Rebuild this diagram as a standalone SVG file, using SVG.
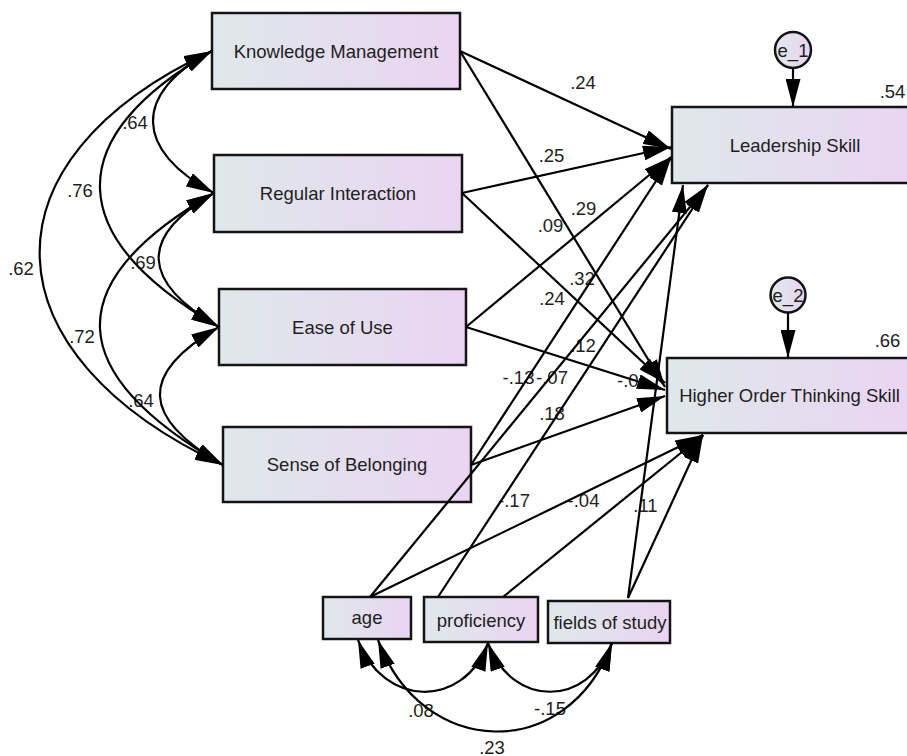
<svg xmlns="http://www.w3.org/2000/svg" width="907" height="756" viewBox="0 0 907 756">
<defs>
<linearGradient id="fillg" x1="0" y1="0" x2="1" y2="0">
<stop offset="0" stop-color="#dfe8eb"/>
<stop offset="1" stop-color="#ead4f2"/>
</linearGradient>
<marker id="ah" viewBox="0 0 28 15" refX="28" refY="7.5" markerWidth="28" markerHeight="15" markerUnits="userSpaceOnUse" orient="auto-start-reverse">
<path d="M0,0 L28,7.5 L0,15 Z" fill="#000"/>
</marker>
<style>
.box{fill:url(#fillg);stroke:#141414;stroke-width:2.5}
.t{font-family:"Liberation Sans",Arial,sans-serif;font-size:18.5px;fill:#1e1e1e;text-anchor:middle}
.ln{fill:none;stroke:#000;stroke-width:2.2;marker-end:url(#ah)}
.cv{fill:none;stroke:#000;stroke-width:2.2;marker-start:url(#ah);marker-end:url(#ah)}
</style>
</defs>
<rect x="0" y="0" width="907" height="756" fill="#fff"/>

<g id="km"><rect class="box" x="212" y="13" width="248" height="76"/><text class="t" x="336" y="57.5">Knowledge Management</text></g>
<g id="ri"><rect class="box" x="214" y="155" width="248" height="77"/><text class="t" x="338" y="200">Regular Interaction</text></g>
<g id="eou"><rect class="box" x="219" y="289" width="247" height="76"/><text class="t" x="342.5" y="333.5">Ease of Use</text></g>
<g id="sob"><rect class="box" x="223" y="427" width="248" height="75"/><text class="t" x="347" y="471">Sense of Belonging</text></g>
<g id="ls"><rect class="box" x="672" y="107" width="246" height="76"/><text class="t" x="795" y="151.5">Leadership Skill</text></g>
<g id="hots"><rect class="box" x="667" y="358" width="245" height="75"/><text class="t" x="789.5" y="402">Higher Order Thinking Skill</text></g>
<g id="age"><rect class="box" x="323" y="597" width="88" height="42"/><text class="t" x="367" y="624">age</text></g>
<g id="prof"><rect class="box" x="424" y="597" width="114" height="45"/><text class="t" x="481" y="626.5">proficiency</text></g>
<g id="fos"><rect class="box" x="548" y="601" width="122" height="42"/><text class="t" x="610" y="628.5">fields of study</text></g>
<g id="e1"><circle class="box" cx="793" cy="50" r="18"/><text class="t" x="793" y="56.5">e_1</text></g>
<g id="e2"><circle class="box" cx="788" cy="295" r="17.5"/><text class="t" x="788" y="301.5">e_2</text></g>

<g id="labels">
<text class="t" x="583" y="89">.24</text>
<text class="t" x="551.5" y="162">.25</text>
<text class="t" x="550.5" y="231.5">.09</text>
<text class="t" x="583.5" y="215">.29</text>
<text class="t" x="582" y="285">.32</text>
<text class="t" x="552" y="305">.24</text>
<text class="t" x="583" y="351.5">.12</text>
<text class="t" x="518.5" y="383.5">-.13</text>
<text class="t" x="552" y="383.5">-.07</text>
<text class="t" x="552" y="420">.18</text>
<text class="t" x="617" y="386.5" style="text-anchor:start">-.0</text>
<text class="t" x="514" y="506.5">-.17</text>
<text class="t" x="583.5" y="507">-.04</text>
<text class="t" x="645.5" y="511.5">.11</text>
<text class="t" x="892.5" y="97.5">.54</text>
<text class="t" x="887.5" y="346.5">.66</text>
<text class="t" x="135" y="128.5">.64</text>
<text class="t" x="80" y="196.5">.76</text>
<text class="t" x="21" y="274.5">.62</text>
<text class="t" x="143" y="268.5">.69</text>
<text class="t" x="82" y="342.5">.72</text>
<text class="t" x="141" y="406.5">.64</text>
<text class="t" x="421" y="716.5">.08</text>
<text class="t" x="550" y="714.5">-.15</text>
<text class="t" x="492" y="753.5">.23</text>
</g>

<g id="connectors">
<path class="ln" d="M460,51 L671,149"/>
<path class="ln" d="M462,193 L671,147"/>
<path class="ln" d="M466,327 L671,157"/>
<path class="ln" d="M471,465 L671,158"/>
<path class="ln" d="M370,597 L708,185"/>
<path class="ln" d="M438,597 L708,185"/>
<path class="ln" d="M628,598 L683,185"/>
<path class="ln" d="M460,51 L665,387"/>
<path class="ln" d="M462,193 L665,383"/>
<path class="ln" d="M466,327 L665,390"/>
<path class="ln" d="M471,465 L665,396"/>
<path class="ln" d="M370,597 L703,435"/>
<path class="ln" d="M503,597 L703,435"/>
<path class="ln" d="M628,598 L703,435"/>
<path class="ln" d="M793,68 L793,107"/>
<path class="ln" d="M788,312.5 L788,358"/>
<path class="cv" d="M212,51 C132,93.5 134,150.5 214,193"/>
<path class="cv" d="M214,193 C137,237.5 142,282.5 219,327"/>
<path class="cv" d="M219,327 C137.6,374 141.6,418 223,465"/>
<path class="cv" d="M212,51 C58,140 65,238 219,327"/>
<path class="cv" d="M214,193 C56,284 65,374 223,465"/>
<path class="cv" d="M212,51 C-25,161 -14,355 223,465"/>
<path class="cv" d="M358,640 C382.5,707 463.5,710 488,643"/>
<path class="cv" d="M488,643 C512,708 588,708 612,643"/>
<path class="cv" d="M378,640 C422,760 568,763 612,643"/>
</g>
</svg>
